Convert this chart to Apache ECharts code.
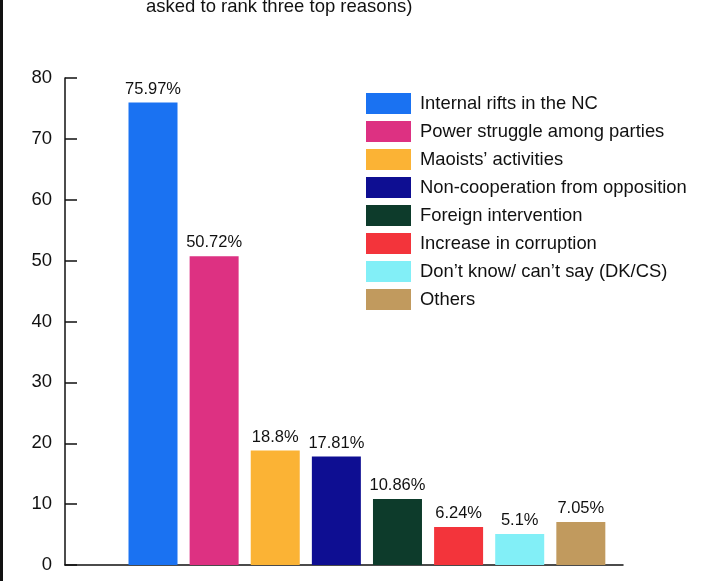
<!DOCTYPE html>
<html>
<head>
<meta charset="utf-8">
<script src="https://cdn.jsdelivr.net/npm/echarts@6/dist/echarts.min.js"></script>
<style>
  html, body { margin: 0; padding: 0; background: #ffffff; }
  #chart { width: 723px; height: 581px; }
</style>
</head>
<body>
<div id="chart"></div>
<script>
var categories = [
  'Internal rifts in the NC',
  'Power struggle among parties',
  'Maoists\u2019 activities',
  'Non-cooperation from opposition',
  'Foreign intervention',
  'Increase in corruption',
  'Don\u2019t know/ can\u2019t say (DK/CS)',
  'Others'
];
var values = [75.97, 50.72, 18.8, 17.81, 10.86, 6.24, 5.1, 7.05];
var colors = ['#1a72f2', '#dd3182', '#fbb335', '#0e0e92', '#0d3b2b', '#f3343b', '#82eff7', '#c19a5e'];
var yTicks = [0, 10, 20, 30, 40, 50, 60, 70, 80];
var titleText = 'asked to rank three top reasons)';

var FONT = 'Liberation Sans, Arial, Helvetica, sans-serif';

var series = categories.map(function (name, i) {
  return {
    name: name,
    type: 'bar',
    barWidth: 49,
    barGap: '-100%',
    itemStyle: { color: colors[i] },
    label: {
      show: true,
      position: 'top',
      distance: 5,
      fontFamily: FONT,
      fontSize: 16.5,
      color: '#111',
      formatter: function (p) { return p.value[1] + '%'; }
    },
    data: [[i, values[i]]]
  };
});

var chart = echarts.init(document.getElementById('chart'), null, { renderer: 'canvas' });
chart.setOption({
  backgroundColor: '#ffffff',
  animation: false,
  title: {
    text: titleText,
    left: 146,
    top: -3,
    padding: 0,
    textStyle: { fontFamily: FONT, fontSize: 18.5, fontWeight: 'normal', color: '#111' }
  },
  grid: { left: 65, right: 100, top: 78, bottom: 16, containLabel: false },
  xAxis: {
    type: 'value',
    min: -1.44,
    max: 7.69,
    axisLine: { show: true, onZero: false, lineStyle: { color: '#111', width: 1.5 } },
    axisTick: { show: false },
    axisLabel: { show: false },
    splitLine: { show: false }
  },
  yAxis: {
    type: 'value',
    min: yTicks[0],
    max: yTicks[yTicks.length - 1],
    interval: yTicks[1] - yTicks[0],
    axisLine: { show: true, onZero: false, lineStyle: { color: '#111', width: 1.5 } },
    axisTick: { show: true, inside: true, length: 12, lineStyle: { color: '#111', width: 1.5 } },
    axisLabel: { fontFamily: FONT, fontSize: 18.5, color: '#111', margin: 13 },
    splitLine: { show: false }
  },
  legend: {
    orient: 'vertical',
    left: 366,
    top: 93,
    padding: 0,
    itemWidth: 45,
    itemHeight: 21,
    itemGap: 7,
    icon: 'rect',
    selectedMode: false,
    data: categories,
    textStyle: { fontFamily: FONT, fontSize: 18.4, color: '#111', padding: [0, 0, 0, 4] }
  },
  graphic: [{
    type: 'rect',
    left: 0,
    top: 0,
    shape: { width: 3, height: 581 },
    style: { fill: '#111' }
  }],
  series: series
});
</script>
</body>
</html>
